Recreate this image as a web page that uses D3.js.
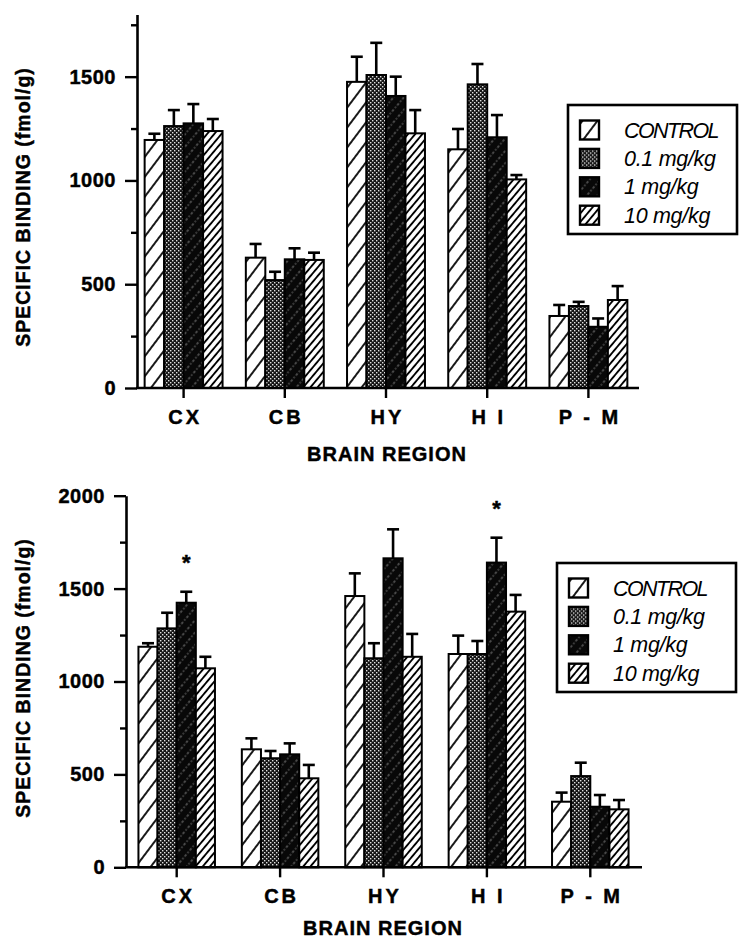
<!DOCTYPE html>
<html lang="en">
<head>
<meta charset="utf-8">
<title>Specific binding by brain region</title>
<script src="https://cdn.jsdelivr.net/npm/d3@7"></script>
<style>
  body { margin: 0; background: #fff; }
  text { font-family: "Liberation Sans", Arial, Helvetica, sans-serif; fill: #000; }
  .heavy { stroke: #000; stroke-width: 0.45; }
</style>
</head>
<body>
<svg id="chart" width="740" height="939" xmlns="http://www.w3.org/2000/svg"></svg>
<script>
var regions = ["CX", "CB", "HY", "H I", "P - M"];
var doses = ["CONTROL", "0.1 mg/kg", "1 mg/kg", "10 mg/kg"];

// upper panel, one row per dose, columns follow regions
var topMeans = [
  [1195, 628, 1475, 1150, 347],
  [1262, 520, 1508, 1463, 395],
  [1275, 620, 1407, 1208, 295],
  [1238, 617, 1227, 1005, 424]
];
var topErrs = [
  [30, 66, 121, 98, 53],
  [77, 40, 155, 98, 20],
  [93, 53, 93, 107, 40],
  [58, 35, 112, 21, 67]
];

// lower panel
var bottomMeans = [
  [1187, 635, 1460, 1148, 353],
  [1286, 587, 1125, 1148, 491],
  [1424, 608, 1663, 1640, 326],
  [1071, 479, 1133, 1376, 312]
];
var bottomErrs = [
  [19, 59, 122, 99, 49],
  [84, 39, 81, 70, 72],
  [59, 59, 156, 134, 63],
  [62, 72, 123, 90, 50]
];
var bottomStars = [["CX", "1 mg/kg"], ["H I", "1 mg/kg"]];

var topTicks = [0, 500, 1000, 1500];
var topMinor = [250, 750, 1250, 1750];
var bottomTicks = [0, 500, 1000, 1500, 2000];
var bottomMinor = [250, 750, 1250, 1750];

var svg = d3.select("#chart");
var defs = svg.append("defs");

function hatch(id, size, angle, bg, stroke, width, dash) {
  var p = defs.append("pattern")
    .attr("id", id)
    .attr("patternUnits", "userSpaceOnUse")
    .attr("width", size)
    .attr("height", size)
    .attr("patternTransform", "rotate(" + angle + ")");
  p.append("rect").attr("width", size).attr("height", size).attr("fill", bg);
  var l = p.append("line")
    .attr("x1", size / 2).attr("y1", 0)
    .attr("x2", size / 2).attr("y2", size)
    .attr("stroke", stroke)
    .attr("stroke-width", width);
  if (dash) l.attr("stroke-dasharray", dash);
}

hatch("pCtrl", 12, 37, "#fff", "#000", 1.8);
hatch("pHigh", 5.5, 40, "#fff", "#000", 1.9);
hatch("pOne", 8, 40, "#080808", "#9a9a9a", 0.9, "1.4 2");

var dots = defs.append("pattern")
  .attr("id", "pLow")
  .attr("patternUnits", "userSpaceOnUse")
  .attr("width", 4).attr("height", 4);
dots.append("rect").attr("width", 4).attr("height", 4).attr("fill", "#151515");
dots.append("rect").attr("x", 0).attr("y", 0).attr("width", 1.4).attr("height", 1.4).attr("fill", "#e0e0e0");
dots.append("rect").attr("x", 2).attr("y", 2).attr("width", 1.4).attr("height", 1.4).attr("fill", "#e0e0e0");

var fills = ["url(#pCtrl)", "url(#pLow)", "url(#pOne)", "url(#pHigh)"];

function drawPanel(p) {
  var g = svg.append("g");

  var x = d3.scaleBand().domain(regions).range(p.xRange)
    .paddingInner(p.padIn).paddingOuter(p.padOut);
  var x1 = d3.scaleBand().domain(doses).range([0, x.bandwidth()]);
  var y = d3.scaleLinear().domain(p.yDomain).range(p.yRange);

  // bars
  doses.forEach(function(dose, i) {
    var rows = regions.map(function(r, j) {
      return { region: r, value: p.means[i][j], err: p.errs[i][j] };
    });
    var bg = g.append("g");

    bg.selectAll("line.err")
      .data(rows)
      .enter().append("line")
      .attr("x1", function(d) { return x(d.region) + x1(dose) + x1.bandwidth() / 2; })
      .attr("x2", function(d) { return x(d.region) + x1(dose) + x1.bandwidth() / 2; })
      .attr("y1", function(d) { return y(d.value); })
      .attr("y2", function(d) { return y(d.value + d.err); })
      .attr("stroke", "#000").attr("stroke-width", 2.6);

    bg.selectAll("line.cap")
      .data(rows)
      .enter().append("line")
      .attr("x1", function(d) { return x(d.region) + x1(dose) + x1.bandwidth() / 2 - 6; })
      .attr("x2", function(d) { return x(d.region) + x1(dose) + x1.bandwidth() / 2 + 6; })
      .attr("y1", function(d) { return y(d.value + d.err); })
      .attr("y2", function(d) { return y(d.value + d.err); })
      .attr("stroke", "#000").attr("stroke-width", 2.6);

    bg.selectAll("rect")
      .data(rows)
      .enter().append("rect")
      .attr("x", function(d) { return x(d.region) + x1(dose); })
      .attr("y", function(d) { return y(d.value); })
      .attr("width", x1.bandwidth())
      .attr("height", function(d) { return y(0) - y(d.value); })
      .attr("fill", fills[i])
      .attr("stroke", "#000")
      .attr("stroke-width", 2);
  });

  // stars
  if (p.stars) {
    g.selectAll("text.star")
      .data(p.stars)
      .enter().append("text")
      .attr("class", "heavy")
      .attr("x", function(d) { return x(d[0]) + x1(d[1]) + x1.bandwidth() / 2; })
      .attr("y", function(d) {
        var i = doses.indexOf(d[1]), j = regions.indexOf(d[0]);
        return y(p.means[i][j] + p.errs[i][j]) - 22;
      })
      .attr("text-anchor", "middle")
      .attr("font-size", 22)
      .attr("font-weight", "bold")
      .text("*");
  }

  // y axis
  var yAx = g.append("g")
    .attr("transform", "translate(" + p.yAxisX + ",0)")
    .call(d3.axisLeft(y).tickValues(p.ticks).tickSize(12).tickSizeOuter(0)
      .tickPadding(9).tickFormat(d3.format("d")));
  var yMin = g.append("g")
    .attr("transform", "translate(" + p.yAxisX + ",0)")
    .call(d3.axisLeft(y).tickValues(p.minor).tickSize(6).tickFormat(""));
  yMin.select(".domain").remove();
  [yAx, yMin].forEach(function(a) {
    a.selectAll("line").attr("stroke-width", 2.4);
    a.select(".domain").attr("stroke-width", 2.6);
  });
  yAx.selectAll("text")
    .attr("class", "heavy")
    .attr("font-size", 20).attr("font-weight", "bold")
    .attr("letter-spacing", 0.5)
    .style("font-family", "'Liberation Sans', Arial, sans-serif");

  // x axis
  var xAx = g.append("g")
    .attr("transform", "translate(0," + y(0) + ")")
    .call(d3.axisBottom(x).tickSize(10).tickSizeOuter(0).tickPadding(12));
  xAx.select(".domain").attr("stroke-width", 2.6)
    .attr("d", "M" + (p.yAxisX - 1) + ",0H" + p.xRange[1]);
  xAx.selectAll("line").attr("stroke-width", 2.4);
  xAx.selectAll("text")
    .attr("class", "heavy")
    .attr("font-size", 20).attr("font-weight", "bold")
    .attr("letter-spacing", 3).attr("dx", 1.5)
    .style("font-family", "'Liberation Sans', Arial, sans-serif");

  // titles
  g.append("text")
    .attr("class", "heavy")
    .attr("transform", "translate(23," + p.yLabelY + ") rotate(-90)")
    .attr("text-anchor", "middle")
    .attr("dy", "0.36em")
    .attr("font-size", 19.5).attr("font-weight", "bold")
    .attr("letter-spacing", 1)
    .text("SPECIFIC BINDING (fmol/g)");

  g.append("text")
    .attr("class", "heavy")
    .attr("x", p.xLabelX).attr("y", p.xLabelY)
    .attr("text-anchor", "middle")
    .attr("font-size", 20).attr("font-weight", "bold")
    .attr("letter-spacing", 1)
    .text("BRAIN REGION");

  // legend
  var lg = g.append("g").attr("transform", "translate(" + p.legend[0] + "," + p.legend[1] + ")");
  lg.append("rect")
    .attr("width", p.legend[2]).attr("height", 129)
    .attr("fill", "#fff").attr("stroke", "#000").attr("stroke-width", 2.6);
  var rows = lg.selectAll("g.row")
    .data(doses)
    .enter().append("g")
    .attr("transform", function(d, i) { return "translate(0," + (25 + i * 28.4) + ")"; });
  rows.append("rect")
    .attr("x", 12).attr("y", -9.5)
    .attr("width", 19).attr("height", 19)
    .attr("fill", function(d, i) { return fills[i]; })
    .attr("stroke", "#000").attr("stroke-width", 2.4);
  rows.append("text")
    .attr("x", 56).attr("y", 7.5)
    .attr("font-size", 21.5).attr("font-style", "italic")
    .attr("letter-spacing", function(d, i) { return i === 0 ? -1.6 : -0.3; })
    .text(function(d) { return d; });
}

drawPanel({
  means: topMeans, errs: topErrs,
  ticks: topTicks, minor: topMinor,
  xRange: [133, 639], padIn: 0.23, padOut: 0.115,
  yDomain: [0, 1800], yRange: [388, 14.4],
  yAxisX: 137,
  yLabelY: 207,
  xLabelX: 387, xLabelY: 461,
  legend: [568, 105, 169]
});

drawPanel({
  means: bottomMeans, errs: bottomErrs, stars: bottomStars,
  ticks: bottomTicks, minor: bottomMinor,
  xRange: [125, 642], padIn: 0.26, padOut: 0.13,
  yDomain: [0, 2000], yRange: [867.3, 495.7],
  yAxisX: 126,
  yLabelY: 678,
  xLabelX: 383, xLabelY: 935,
  legend: [557, 563, 179]
});
</script>
</body>
</html>
